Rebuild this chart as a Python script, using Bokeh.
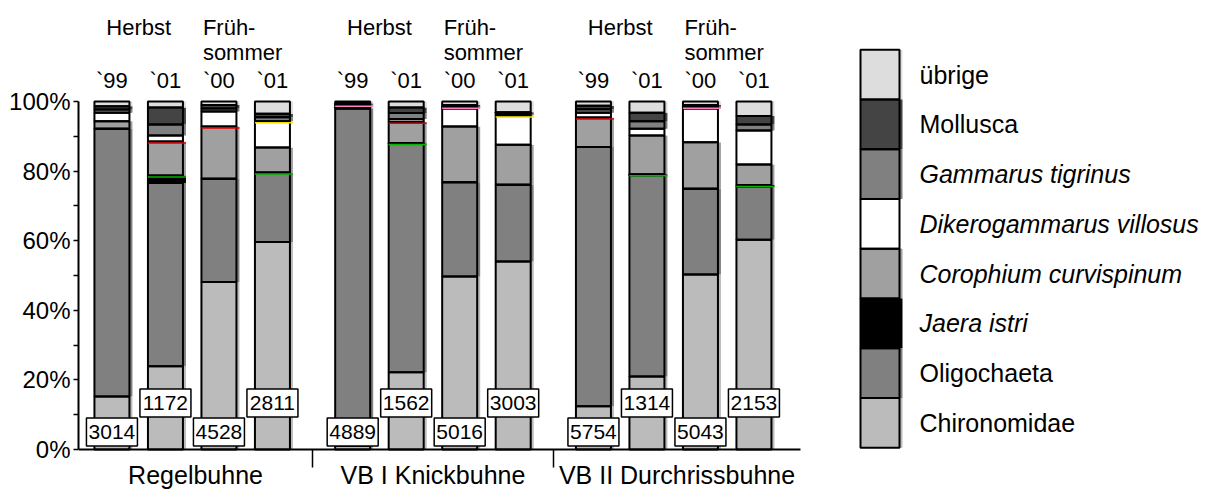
import numpy as np
import pandas as pd
from bokeh.plotting import figure
from bokeh.models import ColumnDataSource, Range1d, FixedTicker
from bokeh.core.properties import value
from bokeh.embed import file_html
from bokeh.resources import INLINE

# ---------------- data ----------------
sites = ["Regelbuhne", "VB I Knickbuhne", "VB II Durchrissbuhne"]
seasons = ["Herbst", "Früh-\nsommer"]
years = ["`99", "`01", "`00", "`01"]
counts = [3014, 1172, 4528, 2811, 4889, 1562, 5016, 3003, 5754, 1314, 5043, 2153]

taxa = ["Chironomidae", "Oligochaeta", "Jaera istri", "Corophium curvispinum",
        "Dikerogammarus villosus", "Gammarus tigrinus", "Mollusca", "übrige"]
italic_taxa = ["Jaera istri", "Corophium curvispinum",
               "Dikerogammarus villosus", "Gammarus tigrinus"]

# percentages per bar (Regel H99, H01, F00, F01, VB I ..., VB II ...)
chironomidae   = [15.2, 23.9, 48.1, 59.6, 1.0, 22.2, 49.7, 54.0, 12.4, 21.0, 50.3, 60.3]
oligochaeta    = [77.0, 52.7, 29.7, 19.9, 97.0, 65.8, 27.1, 22.1, 74.5, 57.8, 24.6, 15.3]
jaera          = [0.0, 2.1, 0.0, 0.1, 0.0, 0.1, 0.0, 0.0, 0.0, 0.3, 0.0, 0.4]
corophium      = [2.1, 9.8, 15.0, 7.2, 0.3, 6.1, 16.0, 11.5, 8.5, 11.1, 13.4, 5.9]
dikerogammarus = [2.5, 1.7, 4.3, 7.5, 0.5, 0.8, 5.2, 8.4, 1.4, 2.0, 9.7, 9.8]
gammarus       = [0.9, 3.2, 0.9, 1.2, 0.3, 1.7, 0.5, 0.4, 1.0, 2.1, 0.5, 1.7]
mollusca       = [0.9, 4.9, 1.0, 1.0, 0.3, 1.6, 0.5, 0.5, 1.0, 2.5, 0.5, 2.4]
uebrige        = [1.4, 1.7, 1.0, 3.5, 0.6, 1.7, 1.0, 3.1, 1.2, 3.2, 1.0, 4.2]

# thin coloured edges seen on top of some segments (taxon, bars with the edge)
accent_taxa = ["Corophium curvispinum", "Jaera istri",
               "Dikerogammarus villosus", "Gammarus tigrinus"]
accent_bars = [[1, 2, 5, 8], [1, 3, 5, 9, 11], [3, 7], [4, 6, 10]]

y_ticks = [0, 20, 40, 60, 80, 100]
y_minor_ticks = [10, 30, 50, 70, 90]
y_tick_labels = ["0%", "20%", "40%", "60%", "80%", "100%"]

# ---------------- styles / geometry ----------------
colors = ["#bbbbbb", "#808080", "#000000", "#a0a0a0",
          "#ffffff", "#808080", "#444444", "#dddddd"]
accent_colors = ["#e00000", "#00b400", "#f0e000", "#ff80c0"]
FONT = value("Liberation Sans")

W, H = 1217, 489
LEFT = 78
PX_X = 53.5      # pixels per x unit
PX_Y = 3.48      # pixels per percent
X0 = -0.625
frame_w = W - LEFT

def dx(px):   # canvas pixel -> data x
    return X0 + (px - LEFT) / PX_X

def dy(py):   # canvas pixel -> data y  (0 % at pixel row 449)
    return (449 - py) / PX_Y

BW = 35 / PX_X       # bar width
SH = 3 / PX_X        # shadow offset

positions = np.array([g * 4.5 + j for g in range(len(sites)) for j in range(len(years))])
separators = [3.75, 8.25]
x_end_axis = 12.875
bounds_pts = [X0] + separators + [x_end_axis]
site_centers = [(bounds_pts[i] + bounds_pts[i + 1]) / 2 for i in range(len(sites))]

p = figure(width=W, height=H, output_backend="svg", toolbar_location=None,
           x_range=Range1d(X0, X0 + frame_w / PX_X),
           y_range=Range1d(dy(H), dy(0)),
           min_border_left=LEFT, min_border_bottom=0,
           min_border_top=0, min_border_right=0)
p.grid.visible = False
p.outline_line_color = None
p.background_fill_color = "white"
p.border_fill_color = "white"

# ---------------- stacked bars ----------------
vals = np.array([chironomidae, oligochaeta, jaera, corophium,
                 dikerogammarus, gammarus, mollusca, uebrige])
tops = np.cumsum(vals, axis=0)
bottoms = tops - vals
rows = []
for k, t in enumerate(taxa):
    for i, pos in enumerate(positions):
        rows.append(dict(taxon=t, x=pos, bottom=bottoms[k, i], top=tops[k, i],
                         color=colors[k]))
df = pd.DataFrame(rows)
df["left"] = df["x"] - BW / 2
df["right"] = df["x"] + BW / 2
df["right_sh"] = df["right"] + SH
src = ColumnDataSource(df)
p.quad(left="left", right="right_sh", bottom="bottom", top="top",
       fill_color="color", line_color=None, source=src)
p.quad(left="left", right="right", bottom="bottom", top="top",
       fill_color=None, line_color="black", line_width=2, source=src)

# coloured edges
ax0, ax1, ay, acol = [], [], [], []
for t, bars, c in zip(accent_taxa, accent_bars, accent_colors):
    k = taxa.index(t)
    for i in bars:
        ax0.append(positions[i] - BW / 2)
        ax1.append(positions[i] + BW / 2 + SH)
        ay.append(tops[k, i] - 1.5 / PX_Y)
        acol.append(c)
p.segment(x0=ax0, x1=ax1, y0=ay, y1=ay, line_color=acol, line_width=1.5)

# ---------------- count labels ----------------
lab_y = [dy(431.5) if j % 2 == 0 else dy(402.5)
         for g in range(len(sites)) for j in range(len(years))]
p.rect(x=positions, y=lab_y, width=51, height=28, width_units="screen",
       height_units="screen", fill_color="white", line_color="black", line_width=1.5)
p.text(x=positions, y=lab_y, text=[str(c) for c in counts], text_align="center",
       text_baseline="middle", text_font=FONT, text_font_size="21px",
       text_color="black")

# ---------------- top labels ----------------
herbst_x = [g * 4.5 + 0.5 for g in range(len(sites))]
fruehs_x = [g * 4.5 + 2 - 0.3 for g in range(len(sites))]
p.text(x=herbst_x, y=[dy(27)] * len(sites), text=[seasons[0]] * len(sites),
       text_align="center", text_baseline="alphabetic", text_font=FONT,
       text_font_size="22px", text_color="black")
for li, line in enumerate(seasons[1].split("\n")):
    p.text(x=fruehs_x, y=[dy(27 + 25 * li)] * len(sites), text=[line] * len(sites),
           text_align="left", text_baseline="alphabetic", text_font=FONT,
           text_font_size="22px", text_color="black")
p.text(x=positions, y=[dy(80)] * len(positions), text=years * len(sites),
       text_align="center", text_baseline="alphabetic", text_font=FONT,
       text_font_size="22px", text_color="black")

# ---------------- legend (manual, stacked swatches) ----------------
leg_names = taxa[::-1]
leg_colors = colors[::-1]
row_h = 49.75 / PX_Y
leg_top = dy(49.3)
l_tops = [leg_top - r * row_h for r in range(len(leg_names))]
l_bots = [t - row_h for t in l_tops]
lx0, lx1 = dx(860), dx(899)
n = len(leg_names)
p.quad(left=[lx0] * n, right=[lx1 + SH] * n, bottom=l_bots, top=l_tops,
       fill_color=leg_colors, line_color=None)
p.quad(left=[lx0] * n, right=[lx1] * n, bottom=l_bots, top=l_tops,
       fill_color=None, line_color="black", line_width=2)
leg_src = ColumnDataSource(dict(
    x=[dx(919)] * n,
    y=[(a + b) / 2 for a, b in zip(l_tops, l_bots)],
    text=leg_names,
    style=["italic" if nm in italic_taxa else "normal" for nm in leg_names]))
p.text(x="x", y="y", text="text", text_font_style="style", source=leg_src,
       text_align="left", text_baseline="middle", text_font=FONT,
       text_font_size="25px", text_color="black")

# ---------------- axes ----------------
xa = p.xaxis[0]
xa.fixed_location = 0
xa.ticker = FixedTicker(ticks=site_centers, minor_ticks=separators)
xa.major_label_overrides = {c: s for c, s in zip(site_centers, sites)}
xa.bounds = (X0, x_end_axis)
xa.axis_line_width = 2
xa.axis_line_color = "black"
xa.major_tick_out = 0
xa.major_tick_in = 0
xa.minor_tick_out = 18
xa.minor_tick_in = 0
xa.minor_tick_line_width = 1.5
xa.minor_tick_line_color = "black"
xa.major_label_text_font = "Liberation Sans"
xa.major_label_text_font_size = "25px"
xa.major_label_text_color = "black"
xa.major_label_standoff = -7

ya = p.yaxis[0]
ya.ticker = FixedTicker(ticks=y_ticks, minor_ticks=y_minor_ticks)
ya.major_label_overrides = {t: s for t, s in zip(y_ticks, y_tick_labels)}
ya.bounds = (0, 100)
ya.axis_line_width = 2
ya.axis_line_color = "black"
ya.major_tick_out = 5
ya.major_tick_in = 0
ya.minor_tick_out = 5
ya.minor_tick_in = 0
ya.major_tick_line_width = 1.5
ya.minor_tick_line_width = 1.5
ya.major_label_text_font = "Liberation Sans"
ya.major_label_text_font_size = "24px"
ya.major_label_text_color = "black"
ya.major_label_standoff = 3

open("out.html", "w").write(file_html(p, INLINE))
